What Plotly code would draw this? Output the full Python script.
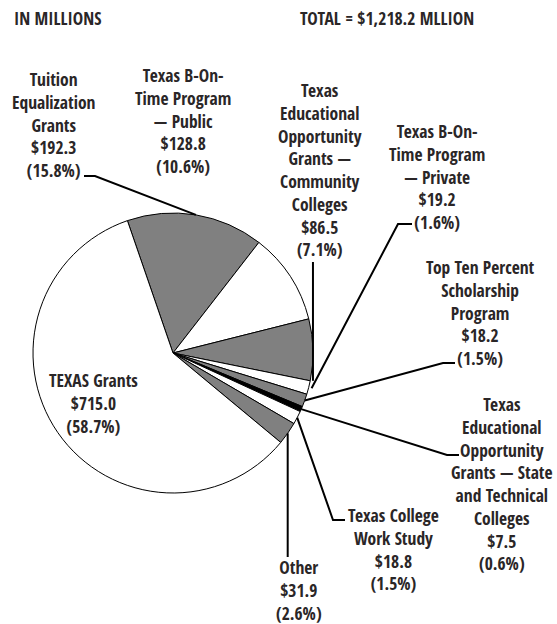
import math
import plotly.graph_objects as go

W, H = 557, 624

# ---- data ----
categories = [
    "Tuition Equalization Grants",
    "Texas B-On-Time Program — Public",
    "Texas Educational Opportunity Grants — Community Colleges",
    "Texas B-On-Time Program — Private",
    "Top Ten Percent Scholarship Program",
    "Texas Educational Opportunity Grants — State and Technical Colleges",
    "Texas College Work Study",
    "Other",
    "TEXAS Grants",
]
values = [192.3, 128.8, 86.5, 19.2, 18.2, 7.5, 18.8, 31.9, 715.0]
percents = [15.8, 10.6, 7.1, 1.6, 1.5, 0.6, 1.5, 2.6, 58.7]
label_lines = [
    ["Tuition", "Equalization", "Grants"],
    ["Texas B-On-", "Time Program", "— Public"],
    ["Texas", "Educational", "Opportunity", "Grants —", "Community", "Colleges"],
    ["Texas B-On-", "Time Program", "— Private"],
    ["Top Ten Percent", "Scholarship", "Program"],
    ["Texas", "Educational", "Opportunity", "Grants — State", "and Technical", "Colleges"],
    ["Texas College", "Work Study"],
    ["Other"],
    ["TEXAS Grants"],
]
slice_colors = ["#808080", "#ffffff", "#808080", "#ffffff", "#808080",
                "#000000", "#ffffff", "#808080", "#ffffff"]
total_label = "TOTAL = $1,218.2 MLLION"
unit_label = "IN MILLIONS"

# ---- layout constants (pixels) ----
CX, CY, R = 173, 353, 140
ROT = -19
FONT = "Open Sans Condensed, DejaVu Sans Condensed, sans-serif"
FS = 17.5
TXT = "#2a2627"

def px(x):
    return x / W

def py(y):
    return 1 - y / H

fig = go.Figure(go.Pie(
    labels=categories, values=values, sort=False, direction="clockwise",
    rotation=ROT, textinfo="none", textposition="none", hoverinfo="label+value",
    marker=dict(colors=slice_colors, line=dict(color="#000000", width=1)),
    domain=dict(x=[px(CX - R), px(CX + R)], y=[py(CY + R), py(CY - R)]),
    showlegend=False,
))

# slice angles from data
tot = sum(values)
angles = []
a = ROT
for v in values:
    span = v / tot * 360
    angles.append((a, a + span, a + span / 2))
    a += span

def rim(ang, r=R):
    t = math.radians(ang)
    return CX + r * math.sin(t), CY - r * math.cos(t)

# label block centres (pixels)
label_pos = [(54, 125), (183, 121), (320, 170), (437, 176), (480, 312),
             (502, 483.5), (393, 549), (299, 590), (93, 402.5)]

annotations = []
for i, (lines, (lx, ly)) in enumerate(zip(label_lines, label_pos)):
    text = "<br>".join(lines + [f"${values[i]:,.1f}", f"({percents[i]}%)"])
    annotations.append(dict(
        x=px(lx), y=py(ly), xref="paper", yref="paper", text=text,
        showarrow=False, xanchor="center", yanchor="middle", align="center",
        font=dict(family=FONT, size=FS, color=TXT),
    ))
annotations.append(dict(x=px(12), y=py(18), xref="paper", yref="paper",
                        text=unit_label, showarrow=False, xanchor="left",
                        yanchor="middle", font=dict(family=FONT, size=FS, color=TXT)))
annotations.append(dict(x=px(476), y=py(18), xref="paper", yref="paper",
                        text=total_label, showarrow=False, xanchor="right",
                        yanchor="middle", font=dict(family=FONT, size=FS, color=TXT)))

# leader lines: rim point at slice mid-angle -> elbow -> end
shapes = []
def poly(points):
    d = "M " + " L ".join(f"{px(x):.5f},{py(y):.5f}" for x, y in points)
    shapes.append(dict(type="path", path=d, xref="paper", yref="paper",
                       line=dict(color="#000000", width=2)))

poly([rim(angles[0][2]), (95, 176), (84, 176)])
cc_x = rim(angles[2][2])[0]
poly([(cc_x, 262), (cc_x, rim(angles[2][1])[1])])
poly([rim(angles[3][2], 143), (398, 224), (412, 224)])
poly([rim(angles[4][2]), (443, 363), (455, 363)])
poly([rim(angles[5][2]), (447, 455), (459, 455)])
poly([rim(angles[6][2]), (333, 520), (345, 520)])
ox, oy = rim(angles[7][2])
poly([(ox, oy), (ox, 557)])

fig.update_layout(
    width=W, height=H, autosize=False,
    margin=dict(l=0, r=0, t=0, b=0),
    paper_bgcolor="#ffffff", plot_bgcolor="#ffffff",
    annotations=annotations, shapes=shapes,
)
fig.write_html("out.html", config={"displayModeBar": False},
               post_script="document.body.style.margin='0';")
